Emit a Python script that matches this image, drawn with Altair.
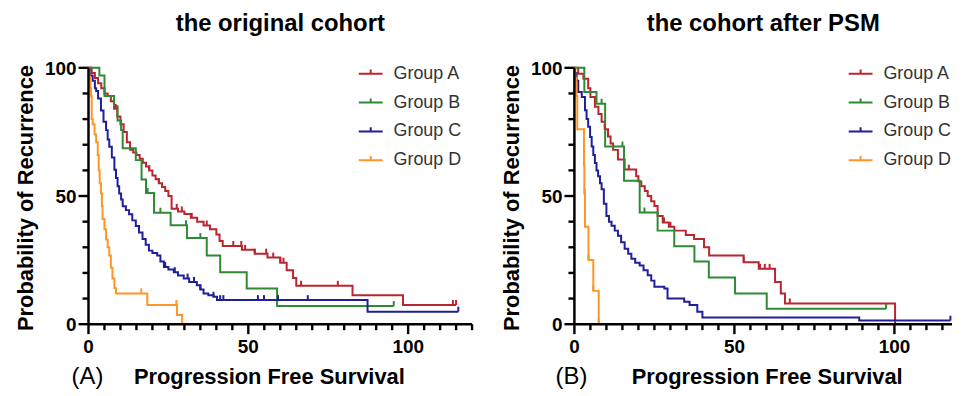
import bisect
import altair as alt
import pandas as pd

groups = ["Group A", "Group B", "Group C", "Group D"]
colors = ["#BA2530", "#2F8A34", "#1F1F99", "#FF9526"]

# ---------------- original cohort ----------------
orig_A_t = [0, 1, 2, 3, 4, 5, 6, 7, 8, 9, 10, 11, 12, 13, 14, 15, 16, 17, 18, 19, 20, 21, 22, 23, 24, 25,
            26, 28, 30, 32, 34, 36, 38, 40, 41, 42, 48, 52, 56, 60, 62, 64, 65, 82.6, 98.4]
orig_A_s = [100, 98, 96, 94, 92, 90, 89, 87, 84, 81, 78, 75, 71, 68, 67, 66, 64.5, 63, 61.5, 60, 58, 56.5,
            55, 53.5, 52, 50, 45, 44, 43, 41.5, 40, 38.5, 37, 35, 32.5, 30.5, 29, 27.5, 26, 24, 21, 18, 15,
            11.3, 7.5]
orig_A_end = 115
orig_A_cens = [8.5, 19, 22, 27.6, 29.2, 32.3, 37, 45.3, 47.8, 49, 52, 55.6, 57.8, 60, 61, 66.5, 78, 114, 115]

orig_B_t = [0, 3.4, 5, 8, 9.1, 10.2, 10.7, 14.8, 16.6, 18, 20.5, 25.7, 30.8, 37, 41.2, 49.5, 59]
orig_B_s = [100, 97, 89, 85, 79.5, 75.7, 68.6, 64, 56.4, 51.2, 43.5, 38.6, 33.6, 26.8, 20.3, 13.9, 7.1]
orig_B_end = 95.5
orig_B_cens = [18.5, 22.5, 30.5, 35, 95.5]

orig_C_t = [0, 0.5, 1.3, 2, 2.4, 3, 3.9, 4.7, 5.5, 6, 6.5, 7.3, 8.1, 8.6, 9.1, 9.6, 10.2, 10.7, 11.7, 12.7,
            13.7, 14.8, 15.8, 16.9, 17.9, 18.9, 20, 21.5, 22.5, 23.6, 25, 26.7, 28, 29.8, 31.5, 33.9, 35,
            36, 37.5, 39.1, 40.2, 87.3]
orig_C_s = [100, 97, 95, 92, 91, 88, 83.4, 79, 75.7, 72, 69.2, 65, 60.2, 57, 53.8, 51, 48.6, 46, 44.5, 42.9,
            40.5, 38.3, 35.8, 33.2, 31, 28.7, 27.8, 26.8, 24.5, 22.3, 21.3, 20.3, 19, 17.8, 16.5, 15.2, 13.5,
            12, 11.3, 10.7, 9.4, 4.9]
orig_C_end = 115.7
orig_C_cens = [24, 27, 31, 33, 35, 39.1, 41.2, 42.2, 53, 54.9, 59.3, 68.6, 115.7]

orig_D_t = [0, 0.3, 0.6, 0.8, 1, 1.3, 1.9, 2.4, 2.9, 3.2, 3.5, 3.9, 4.2, 4.4, 5, 5.5, 6, 6.5, 7, 7.5, 8.1,
            8.6, 18.4, 27.7, 29.3]
orig_D_s = [100, 96, 92, 89, 80, 78, 74, 71, 66, 60, 55, 51, 46, 41, 37, 33, 30, 26.8, 22, 17.8, 14, 12,
            7.5, 3.6, 0]
orig_D_end = 29.3
orig_D_cens = [16.5, 27.5]

# ---------------- cohort after PSM ----------------
psm_A_t = [0, 1.2, 2.8, 4.3, 5, 6.4, 7.5, 8.5, 9.5, 10.5, 11.3, 12.1, 13.6, 15.7, 19.3, 20, 20.9, 22, 22.9,
           24, 25, 26, 27.6, 29.5, 31.2, 34.8, 37.4, 40.5, 42.1, 52.9, 57.6, 62.7, 64.5, 65.8, 100.2]
psm_A_s = [100, 97.7, 95.7, 92, 88.6, 84.8, 82, 79, 76, 73.2, 70.5, 68, 64.2, 60.3, 57.7, 55.7, 53.8, 52,
           50, 48, 46.1, 42.2, 39.7, 38, 36.5, 34.8, 33.2, 30, 26.8, 24.2, 21.6, 16.5, 12, 8.1, 0]
psm_A_end = 100.2
psm_A_cens = [9.5, 17, 28, 30, 52.9, 58, 59.5, 61, 67.3]

psm_B_t = [0, 3.1, 6.9, 9.6, 15.5, 20.4, 26, 31.2, 37.5, 42, 50.2, 60.1]
psm_B_s = [100, 90.6, 86, 69.3, 56, 43.6, 36.5, 30.4, 24.5, 18.2, 12, 6]
psm_B_end = 97.4
psm_B_cens = [8.5, 15, 21.9, 97.4]

psm_C_t = [0, 0.2, 0.7, 1.2, 2.3, 3.3, 3.8, 4.3, 4.9, 5.4, 5.9, 6.4, 6.9, 7.4, 8, 8.5, 9.2, 10, 10.8, 11.6,
           12.6, 13.6, 14.6, 15.7, 16.8, 17.8, 19, 20.4, 21.6, 22.9, 24, 25, 28.1, 29.1, 34.3, 36, 38.4, 40,
           89]
psm_C_s = [100, 98, 95, 90.6, 88.6, 83.5, 80, 77, 73, 69.3, 66, 62.9, 60, 57.7, 55, 52.6, 47, 42.2, 40,
           38.4, 36.5, 34.5, 32, 29.4, 27.5, 25.5, 24, 22.9, 21, 19.1, 17, 14.6, 13.9, 10, 8.8, 7.5, 4.9, 2.6,
           1.4]
psm_C_end = 117.5
psm_C_cens = [117.5]

psm_D_t = [0, 0.3, 0.6, 0.9, 3.0, 3.1, 3.3, 4.4, 5.9, 7.6]
psm_D_s = [100, 96, 89, 76, 62, 51, 38, 25, 13, 0]
psm_D_end = 7.6
psm_D_cens = [3.0, 3.25, 4.4, 5.9, 7.6]

x_tick_values = [0, 5, 10, 15, 20, 25, 30, 35, 40, 45, 50, 55, 60, 65, 70, 75, 80, 85, 90, 95, 100, 105,
                 110, 115, 120]
y_tick_values = [0, 10, 20, 30, 40, 50, 60, 70, 80, 90, 100]
x_title = "Progression Free Survival"
y_title = "Probability of Recurrence"

FONT = "Liberation Sans"
H = 258


def km_rows(group, times, surv, end, cens):
    line = [{"group": group, "t": t, "s": s, "i": k} for k, (t, s) in enumerate(zip(times, surv))]
    line.append({"group": group, "t": end, "s": surv[-1], "i": len(times)})
    pts = []
    for c in cens:
        k = bisect.bisect_right(times, c) - 1
        pts.append({"group": group, "t": c, "s": surv[k]})
    return line, pts


def build(series):
    lines, pts = [], []
    for g, (t, s, e, c) in zip(groups, series):
        l, p = km_rows(g, t, s, e, c)
        lines += l
        pts += p
    return pd.DataFrame(lines), pd.DataFrame(pts)


def panel(series, title, tag, width, xmax, legend_x, title_x, tag_x):
    lines, pts = build(series)
    xvals = [v for v in x_tick_values if v <= xmax]
    xscale = alt.Scale(domain=[0, xmax], nice=False, zero=True)
    yscale = alt.Scale(domain=[0, 100], nice=False)
    x = alt.X("t:Q", scale=xscale, axis=None)
    y = alt.Y("s:Q", scale=yscale, axis=None)
    legend = alt.Legend(title=None, orient="none", legendX=legend_x, legendY=-7, padding=0,
                        symbolType="M-1,0H1M0,0V-0.35", symbolSize=576, symbolStrokeWidth=2,
                        labelFont=FONT, labelFontSize=18, labelColor="#333333", labelOffset=10,
                        rowPadding=7)
    color = alt.Color("group:N", scale=alt.Scale(domain=groups, range=colors), legend=legend)
    curve = alt.Chart(lines).mark_line(interpolate="step-after", strokeWidth=2).encode(
        x=x, y=y, color=color, order="i:Q")
    cens = alt.Chart(pts).mark_point(shape="M0,0L0,-1", size=100, strokeWidth=2, opacity=1).encode(
        x=x, y=y, color=color)

    xt = pd.DataFrame({"t": xvals})
    yt = pd.DataFrame({"s": y_tick_values})
    xt_major = xt[xt.t % 50 == 0]
    xt_minor = xt[xt.t % 50 != 0]
    yt_major = yt[yt.s % 50 == 0]
    yt_minor = yt[yt.s % 50 != 0]
    rule_kw = dict(color="black", strokeWidth=2.4)
    one = pd.DataFrame({"k": [0]})

    xdom = alt.Chart(one).mark_rule(color="black", strokeWidth=2.5).encode(
        x=alt.value(0), x2=alt.value(width), y=alt.value(H))
    ydom = alt.Chart(one).mark_rule(color="black", strokeWidth=2.5).encode(
        x=alt.value(0), y=alt.value(0), y2=alt.value(H))
    xmaj = alt.Chart(xt_major).mark_rule(**rule_kw).encode(x=x, y=alt.value(H), y2=alt.value(H + 10))
    xmin = alt.Chart(xt_minor).mark_rule(**rule_kw).encode(x=x, y=alt.value(H), y2=alt.value(H + 6))
    ymaj = alt.Chart(yt_major).mark_rule(**rule_kw).encode(y=y, x=alt.value(0), x2=alt.value(-10))
    ymin = alt.Chart(yt_minor).mark_rule(**rule_kw).encode(y=y, x=alt.value(0), x2=alt.value(-6))

    txt_kw = dict(font=FONT, fontWeight="bold", color="black")
    xlab = alt.Chart(xt_major).mark_text(fontSize=19, baseline="middle", align="center", **txt_kw).encode(
        x=x, y=alt.value(H + 23), text="t:Q")
    ylab = alt.Chart(yt_major).mark_text(fontSize=19, baseline="middle", align="right", dy=1, **txt_kw).encode(
        y=y, x=alt.value(-12), text="s:Q")
    xtit = alt.Chart(pd.DataFrame({"lab": [x_title]})).mark_text(
        fontSize=22, baseline="alphabetic", align="center", **txt_kw).encode(
        x=alt.value(title_x), y=alt.value(H + 60), text="lab:N")
    ytit = alt.Chart(pd.DataFrame({"lab": [y_title]})).mark_text(
        fontSize=22, baseline="middle", align="center", angle=270, **txt_kw).encode(
        x=alt.value(-63), y=alt.value(H / 2 + 2), text="lab:N")
    lab = alt.Chart(pd.DataFrame({"tag": [tag]})).mark_text(
        font=FONT, fontSize=24, color="black", baseline="alphabetic", align="center").encode(
        text="tag:N", x=alt.value(tag_x), y=alt.value(H + 60))
    return alt.layer(curve, cens, xdom, ydom, xmaj, xmin, ymaj, ymin, xlab, ylab, xtit, ytit, lab).properties(
        width=width, height=H,
        title=alt.TitleParams(title, anchor="middle", offset=5, baseline="alphabetic"))


left = panel([(orig_A_t, orig_A_s, orig_A_end, orig_A_cens),
              (orig_B_t, orig_B_s, orig_B_end, orig_B_cens),
              (orig_C_t, orig_C_s, orig_C_end, orig_C_cens),
              (orig_D_t, orig_D_s, orig_D_end, orig_D_cens)],
             "the original cohort", "(A)", 386, 120, 271, 182, -1)
right = panel([(psm_A_t, psm_A_s, psm_A_end, psm_A_cens),
               (psm_B_t, psm_B_s, psm_B_end, psm_B_cens),
               (psm_C_t, psm_C_s, psm_C_end, psm_C_cens),
               (psm_D_t, psm_D_s, psm_D_end, psm_D_cens)],
              "the cohort after PSM", "(B)", 380, 118, 275, 194, -3)

chart = alt.hconcat(left, right, spacing=26).resolve_scale(color="independent").resolve_legend(
    color="independent").properties(padding={"left": 6, "top": 3, "right": 0, "bottom": 0}).configure_view(
    stroke=None).configure_title(
    font=FONT, fontSize=24, fontWeight="bold", color="black")

chart.save("out.html", embed_options={"renderer": "svg", "actions": False})
